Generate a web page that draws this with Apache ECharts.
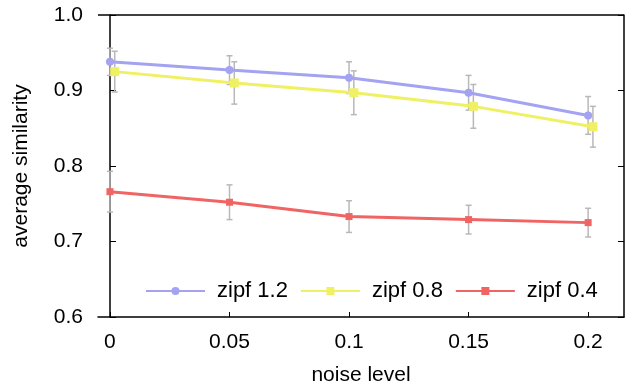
<!DOCTYPE html>
<html>
<head>
<meta charset="utf-8">
<script src="https://cdn.jsdelivr.net/npm/echarts@6/dist/echarts.min.js"></script>
<style>
  html, body { margin: 0; padding: 0; background: #fff; }
  #chart { width: 637px; height: 391px; }
</style>
</head>
<body>
<div id="chart"></div>
<script>
// noise levels on the x axis
const noise = [0, 0.05, 0.1, 0.15, 0.2];
const xTicks = [0, 0.05, 0.1, 0.15, 0.2];
const yTicks = [0.6, 0.7, 0.8, 0.9, 1.0];

// mean similarity and error (+/-) per series
const zipf12 = [0.938, 0.927, 0.917, 0.897, 0.867];
const zipf12Err = [0.018, 0.019, 0.021, 0.023, 0.025];
const zipf08 = [0.925, 0.910, 0.897, 0.879, 0.852];
const zipf08Err = [0.027, 0.028, 0.029, 0.029, 0.027];
const zipf04 = [0.766, 0.752, 0.733, 0.729, 0.725];
const zipf04Err = [0.027, 0.023, 0.021, 0.019, 0.019];

const names = ['zipf 1.2', 'zipf 0.8', 'zipf 0.4'];
const colors = ['#a3a3f2', '#f0f064', '#f06464'];
const symbols = ['circle', 'rect', 'rect'];
const symbolSizes = [8, 9, 7];
// small horizontal shift so the error bars of zipf 0.8 do not overlap
const shift = [0, 0.002, 0];

const FONT = '"Liberation Sans", Arial, Helvetica, sans-serif';

const chart = echarts.init(document.getElementById('chart'), null, { renderer: 'canvas' });

const means = [zipf12, zipf08, zipf04];
const errs = [zipf12Err, zipf08Err, zipf04Err];

const lineSeries = means.map((vals, i) => ({
  name: names[i],
  type: 'line',
  z: 3 + i,
  data: vals.map((v, j) => [noise[j] + shift[i], v]),
  symbol: symbols[i],
  symbolSize: symbolSizes[i],
  showAllSymbol: true,
  itemStyle: { color: colors[i] },
  lineStyle: { color: colors[i], width: 3 },
  emphasis: { disabled: true }
}));

const errSeries = means.map((vals, i) => ({
  name: names[i] + ' err',
  type: 'custom',
  z: 2,
  silent: true,
  data: vals.map((v, j) => [noise[j] + shift[i], v - errs[i][j], v + errs[i][j]]),
  renderItem: function (params, api) {
    const lo = api.coord([api.value(0), api.value(1)]);
    const hi = api.coord([api.value(0), api.value(2)]);
    const cap = 3;
    const style = { stroke: '#b8b8b8', lineWidth: 1.5 };
    return {
      type: 'group',
      children: [
        { type: 'line', shape: { x1: lo[0], y1: lo[1], x2: hi[0], y2: hi[1] }, style: style },
        { type: 'line', shape: { x1: lo[0] - cap, y1: lo[1], x2: lo[0] + cap, y2: lo[1] }, style: style },
        { type: 'line', shape: { x1: hi[0] - cap, y1: hi[1], x2: hi[0] + cap, y2: hi[1] }, style: style }
      ]
    };
  }
}));

chart.setOption({
  animation: false,
  backgroundColor: '#fff',
  textStyle: { fontFamily: FONT },
  grid: { left: 98, right: 13, top: 15, bottom: 74, containLabel: false },
  legend: {
    data: names,
    left: 145,
    top: 280,
    padding: 0,
    itemWidth: 59,
    itemHeight: 10,
    itemGap: 12,
    textStyle: { fontFamily: FONT, fontSize: 22, color: '#000', padding: [0, 0, 0, 7] }
  },
  xAxis: {
    type: 'value',
    min: -0.005,
    max: 0.215,
    name: 'noise level',
    nameLocation: 'middle',
    nameGap: 48,
    nameTextStyle: { fontFamily: FONT, fontSize: 21, color: '#000' },
    axisLine: { show: true, onZero: false, lineStyle: { color: '#000', width: 1.5 } },
    axisTick: { show: true, inside: true, length: 5, customValues: xTicks, lineStyle: { color: '#000' } },
    axisLabel: {
      customValues: xTicks,
      margin: 15,
      fontFamily: FONT, fontSize: 21, color: '#000',
      formatter: v => String(v)
    },
    splitLine: { show: false }
  },
  yAxis: [{
    type: 'value',
    min: 0.6,
    max: 1.0,
    interval: 0.1,
    name: 'average similarity',
    nameLocation: 'middle',
    nameGap: 66,
    nameTextStyle: { fontFamily: FONT, fontSize: 21, color: '#000' },
    axisLine: { show: true, lineStyle: { color: '#000', width: 1.5 } },
    axisTick: { show: true, inside: true, length: 6, lineStyle: { color: '#000' } },
    axisLabel: {
      margin: 15,
      fontFamily: FONT, fontSize: 21, color: '#000',
      formatter: v => v.toFixed(1)
    },
    splitLine: { show: false }
  }, {
    type: 'value',
    position: 'right',
    min: 0.6,
    max: 1.0,
    interval: 0.1,
    axisLine: { show: true, lineStyle: { color: '#000', width: 1.5 } },
    axisTick: { show: true, inside: true, length: 6, lineStyle: { color: '#000' } },
    axisLabel: { show: false },
    splitLine: { show: false }
  }],
  series: [
    ...errSeries,
    ...lineSeries,
    {
      // top frame line
      type: 'line',
      data: [],
      markLine: {
        silent: true,
        symbol: 'none',
        label: { show: false },
        lineStyle: { color: '#000', width: 1.5, type: 'solid' },
        data: [{ yAxis: 1.0 }]
      }
    }
  ]
});
</script>
</body>
</html>
